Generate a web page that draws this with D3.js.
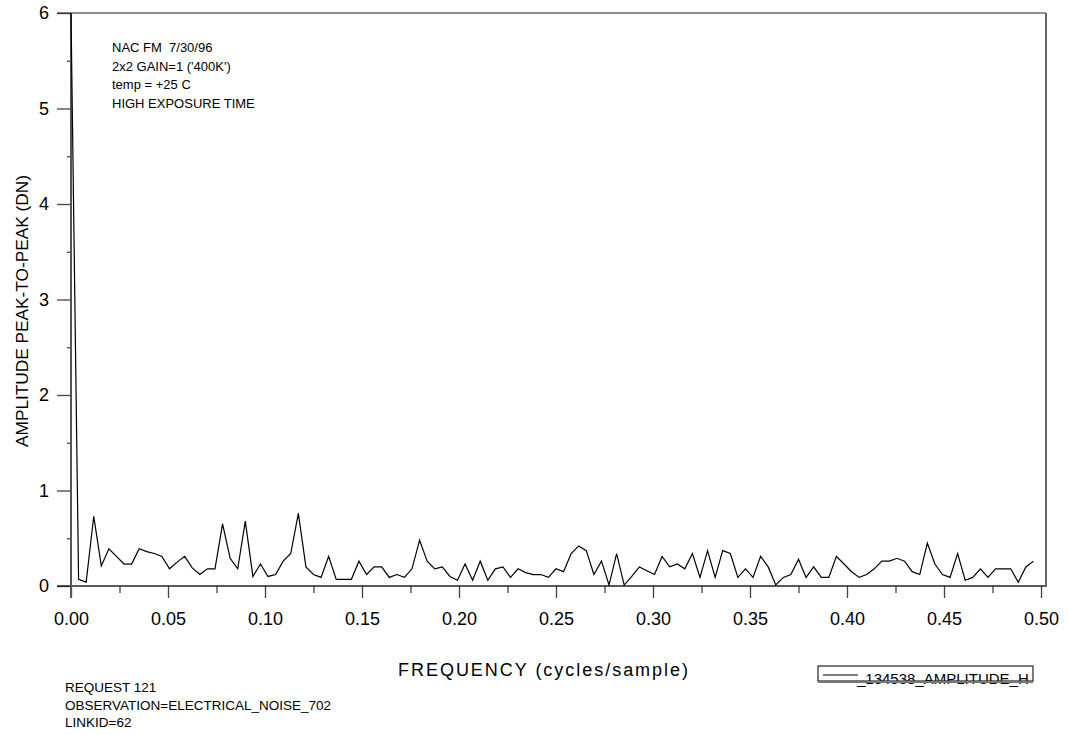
<!DOCTYPE html>
<html>
<head>
<meta charset="utf-8">
<script src="https://cdn.jsdelivr.net/npm/d3@7"></script>
<style>
	body { margin: 0; background: #fff; }
	svg { display: block; font-family: "Liberation Sans", Arial, sans-serif; }
	.tick text { fill: #000; }
	.note { white-space: pre; }
</style>
</head>
<body>
<div id="chart"></div>
<script>

//////////////////////////////
// DATA
//////////////////////////////

// amplitude, one value per frequency bin (bin width 1/256)
const amplitude = [
	6.0, 0.07, 0.04, 0.73, 0.21, 0.39, 0.31, 0.23, 0.23, 0.39,
	0.36, 0.34, 0.31, 0.18, 0.25, 0.31, 0.19, 0.12, 0.18, 0.18,
	0.65, 0.29, 0.18, 0.68, 0.10, 0.23, 0.10, 0.12, 0.26, 0.34,
	0.76, 0.20, 0.12, 0.09, 0.31, 0.07, 0.07, 0.07, 0.26, 0.12,
	0.20, 0.20, 0.09, 0.12, 0.09, 0.18, 0.48, 0.26, 0.18, 0.20,
	0.10, 0.06, 0.23, 0.06, 0.26, 0.06, 0.18, 0.20, 0.09, 0.18,
	0.14, 0.12, 0.12, 0.09, 0.18, 0.15, 0.34, 0.42, 0.37, 0.12,
	0.26, 0.01, 0.34, 0.01, 0.10, 0.20, 0.16, 0.12, 0.31, 0.20,
	0.23, 0.18, 0.34, 0.09, 0.37, 0.09, 0.37, 0.34, 0.09, 0.18,
	0.09, 0.31, 0.20, 0.01, 0.09, 0.12, 0.28, 0.09, 0.20, 0.09,
	0.09, 0.31, 0.23, 0.15, 0.09, 0.12, 0.18, 0.26, 0.26, 0.29,
	0.26, 0.15, 0.12, 0.45, 0.23, 0.12, 0.09, 0.34, 0.06, 0.09,
	0.18, 0.09, 0.18, 0.18, 0.18, 0.04, 0.20, 0.26
]
const binWidth = 1 / 256

const xMajor = [0, 0.05, 0.10, 0.15, 0.20, 0.25, 0.30, 0.35, 0.40, 0.45, 0.50]
const xMinor = [0.025, 0.075, 0.125, 0.175, 0.225, 0.275, 0.325, 0.375, 0.425, 0.475]
const yMajor = [0, 1, 2, 3, 4, 5, 6]
const yMinor = [0.5, 1.5, 2.5, 3.5, 4.5, 5.5]

const notes = ["NAC FM  7/30/96", "2x2 GAIN=1 ('400K')", "temp = +25 C", "HIGH EXPOSURE TIME"]
const footer = ["REQUEST 121", "OBSERVATION=ELECTRICAL_NOISE_702", "LINKID=62"]
const seriesName = "_134538_AMPLITUDE_H"

//////////////////////////////
// CHART
//////////////////////////////

const drawChart = () => {

	let width = 1068
	let height = 735
	let left = 71, right = 1046, top = 13, bottom = 586

	let x = d3.scaleLinear().domain([0, 0.5]).range([left, 1041])
	let y = d3.scaleLinear().domain([0, 6]).range([bottom, top])

	let svg = d3.select("#chart").append("svg").attr("width", width).attr("height", height)

	// minor ticks
	svg.append("g").attr("transform", "translate(0," + bottom + ")")
		.call(d3.axisBottom(x).tickValues(xMinor).tickSize(7).tickFormat(""))
		.call(g => g.select(".domain").remove())
	svg.append("g").attr("transform", "translate(" + left + ",0)")
		.call(d3.axisLeft(y).tickValues(yMinor).tickSize(4).tickFormat(""))
		.call(g => g.select(".domain").remove())

	// major ticks + labels
	svg.append("g").attr("transform", "translate(0," + bottom + ")")
		.call(d3.axisBottom(x).tickValues(xMajor).tickSize(12).tickPadding(14).tickFormat(d3.format(".2f")))
		.call(g => g.select(".domain").remove())
		.selectAll("text").style("font-size", "18px")
	svg.append("g").attr("transform", "translate(" + left + ",0)")
		.call(d3.axisLeft(y).tickValues(yMajor).tickSize(14).tickPadding(8).tickFormat(d3.format("d")))
		.call(g => g.select(".domain").remove())
		.selectAll("text").style("font-size", "18px")

	svg.selectAll(".tick line").attr("stroke", "#444").attr("stroke-width", 1.3)

	// frame
	let frame = svg.append("g").attr("stroke", "#222").attr("fill", "none")
	frame.append("line").attr("x1", 57).attr("x2", right).attr("y1", top).attr("y2", top).attr("stroke-width", 1.2)
	frame.append("line").attr("x1", 57).attr("x2", right).attr("y1", bottom).attr("y2", bottom).attr("stroke-width", 1.3)
	frame.append("line").attr("x1", left).attr("x2", left).attr("y1", top).attr("y2", 598).attr("stroke", "#555").attr("stroke-width", 2)
	frame.append("line").attr("x1", right).attr("x2", right).attr("y1", top).attr("y2", bottom + 1).attr("stroke", "#666").attr("stroke-width", 2)

	// series
	let line = d3.line()
		.x((d, i) => x(i * binWidth))
		.y(d => y(d))

	svg.append("path").datum(amplitude)
		.attr("d", line)
		.attr("fill", "none")
		.attr("stroke", "#000")
		.attr("stroke-width", 1.2)
		.attr("stroke-linejoin", "miter")

	// axis titles
	svg.append("text")
		.attr("x", 543).attr("y", 676)
		.attr("text-anchor", "middle")
		.attr("textLength", 290).attr("lengthAdjust", "spacing")
		.style("font-size", "18px")
		.text("FREQUENCY (cycles/sample)")

	svg.append("text")
		.attr("transform", "translate(28,311) rotate(-90)")
		.attr("text-anchor", "middle")
		.attr("textLength", 272).attr("lengthAdjust", "spacingAndGlyphs")
		.style("font-size", "17px")
		.text("AMPLITUDE PEAK-TO-PEAK (DN)")

	// annotations
	svg.append("g").selectAll("text").data(notes).enter().append("text")
		.attr("class", "note")
		.attr("x", 112).attr("y", (d, i) => 52 + i * 18.5)
		.style("font-size", "13px")
		.text(d => d)

	svg.append("g").selectAll("text").data(footer).enter().append("text")
		.attr("x", 65).attr("y", (d, i) => 692 + i * 17.5)
		.style("font-size", "13.5px")
		.text(d => d)

	// legend
	let legend = svg.append("g")
	legend.append("line").attr("x1", 823).attr("x2", 858).attr("y1", 675).attr("y2", 675).attr("stroke", "#000").attr("stroke-width", 1.2)
	legend.append("text").attr("x", 857).attr("y", 684).style("font-size", "15px").text(seriesName)
	legend.append("rect").attr("x", 818).attr("y", 666).attr("width", 215).attr("height", 15)
		.attr("fill", "none").attr("stroke", "#222").attr("stroke-width", 1.2)
	legend.append("line").attr("x1", 818).attr("x2", 1033).attr("y1", 682).attr("y2", 682).attr("stroke", "#777").attr("stroke-width", 2)
}

//////////////////////////////
// Document Ready
//////////////////////////////

drawChart()
</script>
</body>
</html>
